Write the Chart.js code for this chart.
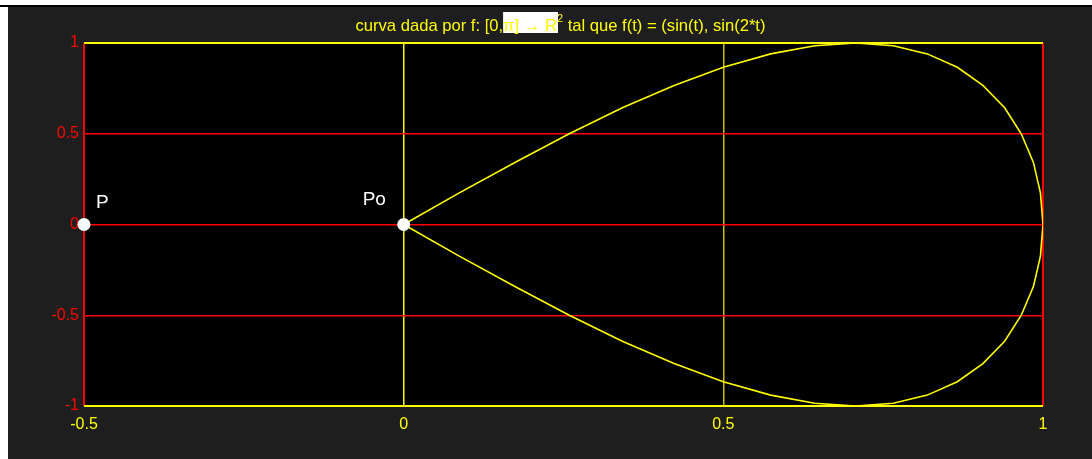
<!DOCTYPE html>
<html>
<head>
<meta charset="utf-8">
<script src="https://cdn.jsdelivr.net/npm/chart.js@4.4.0/dist/chart.umd.min.js"></script>
<style>
  html, body { margin: 0; padding: 0; background: #ffffff; }
  #topline { position: absolute; left: 0; top: 5px; width: 1092px; height: 2px; background: #000; }
  #wrap { position: absolute; left: 8px; top: 7px; width: 1084px; height: 452px; background: #1e1e1e; }
</style>
</head>
<body>
<div id="topline"></div>
<div id="wrap"><canvas id="chart" width="1084" height="452"></canvas></div>
<script>
// curve f(t), t from 0 to pi
const curveX = [0, 0.087, 0.174, 0.259, 0.342, 0.423, 0.5, 0.574, 0.643, 0.707, 0.766, 0.819, 0.866, 0.906,
  0.94, 0.966, 0.985, 0.996, 1, 0.996, 0.985, 0.966, 0.94, 0.906, 0.866, 0.819, 0.766, 0.707, 0.643, 0.574,
  0.5, 0.423, 0.342, 0.259, 0.174, 0.087, 0];
const curveY = [0, 0.174, 0.342, 0.5, 0.643, 0.766, 0.866, 0.94, 0.985, 1, 0.985, 0.94, 0.866, 0.766,
  0.643, 0.5, 0.342, 0.174, 0, -0.174, -0.342, -0.5, -0.643, -0.766, -0.866, -0.94, -0.985, -1, -0.985, -0.94,
  -0.866, -0.766, -0.643, -0.5, -0.342, -0.174, 0];

// marked points
const pointNames = ['P', 'Po'];
const pointX = [-0.5, 0];
const pointY = [0, 0];

const xTicks = [-0.5, 0, 0.5, 1];
const yTicks = [-1, -0.5, 0, 0.5, 1];

const YELLOW = '#ffff00';
const RED = '#ff0000';
const FONT = '"Liberation Sans", Arial, sans-serif';

const plotBg = {
  id: 'plotBg',
  beforeDraw(chart) {
    const { ctx, chartArea: a } = chart;
    ctx.save();
    ctx.fillStyle = '#000';
    ctx.fillRect(a.left, a.top, a.right - a.left, a.bottom - a.top);
    ctx.restore();
  }
};

// title with the highlighted piece, like the original figure
const titlePlugin = {
  id: 'titlePlugin',
  afterDraw(chart) {
    const { ctx, chartArea: a } = chart;
    const s1 = 'curva dada por f: [0,';
    const s2 = '\u03c0] \u2192 R';
    const sup = '2';
    const s3 = ' tal que f(t) = (sin(t), sin(2*t)';
    ctx.save();
    ctx.font = '16.6px ' + FONT;
    const w1 = ctx.measureText(s1).width;
    const w2 = ctx.measureText(s2).width;
    const w3 = ctx.measureText(s3).width;
    ctx.font = '11px ' + FONT;
    const ws = ctx.measureText(sup).width;
    const total = w1 + w2 + ws + w3;
    let x = (a.left + a.right) / 2 - 3 - total / 2;
    const base = 24;
    ctx.fillStyle = '#ffffff';
    ctx.fillRect(x + w1, 5, w2 + 1, 21);
    ctx.fillStyle = YELLOW;
    ctx.textBaseline = 'alphabetic';
    ctx.font = '16.6px ' + FONT;
    ctx.fillText(s1, x, base);
    x += w1;
    ctx.fillText(s2, x, base);
    x += w2;
    ctx.font = '11px ' + FONT;
    ctx.fillText(sup, x, base - 9);
    x += ws;
    ctx.font = '16.6px ' + FONT;
    ctx.fillText(s3, x, base);

    // point labels
    const xs = chart.scales.x, ys = chart.scales.y;
    ctx.fillStyle = '#ffffff';
    ctx.font = '19px ' + FONT;
    pointNames.forEach((name, i) => {
      const px = xs.getPixelForValue(pointX[i]);
      const py = ys.getPixelForValue(pointY[i]);
      const dx = name === 'P' ? 12 : -41;
      const dy = name === 'P' ? -17 : -20;
      ctx.fillText(name, px + dx, py + dy);
    });
    ctx.restore();
  }
};

// grid colours per tick (first and last are the box edges)
const xGridColors = [RED, YELLOW, '#c8c000', RED];
const xGridWidths = [2, 1.5, 1.5, 2];
const yGridColors = [YELLOW, RED, RED, RED, YELLOW];
const yGridWidths = [2, 1.5, 1.5, 1.5, 2];

new Chart(document.getElementById('chart'), {
  type: 'scatter',
  data: {
    datasets: [
      {
        label: 'points',
        data: pointX.map((x, i) => ({ x: x, y: pointY[i] })),
        pointRadius: 6.5,
        pointBackgroundColor: '#ffffff',
        pointBorderColor: '#ffffff',
        pointBorderWidth: 0,
        clip: false
      },
      {
        label: 'curve',
        data: curveX.map((x, i) => ({ x: x, y: curveY[i] })),
        showLine: true,
        borderColor: YELLOW,
        borderWidth: 1.6,
        pointRadius: 0,
        tension: 0
      }
    ]
  },
  options: {
    responsive: false,
    animation: false,
    layout: { padding: { top: 36, right: 49, left: 0, bottom: 0 } },
    plugins: {
      legend: { display: false },
      tooltip: { enabled: false },
      title: { display: false }
    },
    scales: {
      x: {
        type: 'linear',
        min: -0.5,
        max: 1,
        afterBuildTicks: s => { s.ticks = xTicks.map(v => ({ value: v })); },
        afterFit: s => { s.height = 53; },
        border: { display: false },
        grid: {
          drawTicks: false,
          color: xGridColors,
          lineWidth: xGridWidths
        },
        ticks: {
          color: YELLOW, padding: 9, font: { family: FONT, size: 16 },
          callback: v => String(v)
        }
      },
      y: {
        type: 'linear',
        min: -1,
        max: 1,
        afterBuildTicks: s => { s.ticks = yTicks.map(v => ({ value: v })); },
        afterFit: s => { s.width = 76; },
        border: { display: false },
        grid: {
          drawTicks: false,
          color: yGridColors,
          lineWidth: yGridWidths
        },
        ticks: {
          color: RED, padding: 5, font: { family: FONT, size: 16 },
          callback: v => String(v)
        }
      }
    }
  },
  plugins: [plotBg, titlePlugin]
});
</script>
</body>
</html>
